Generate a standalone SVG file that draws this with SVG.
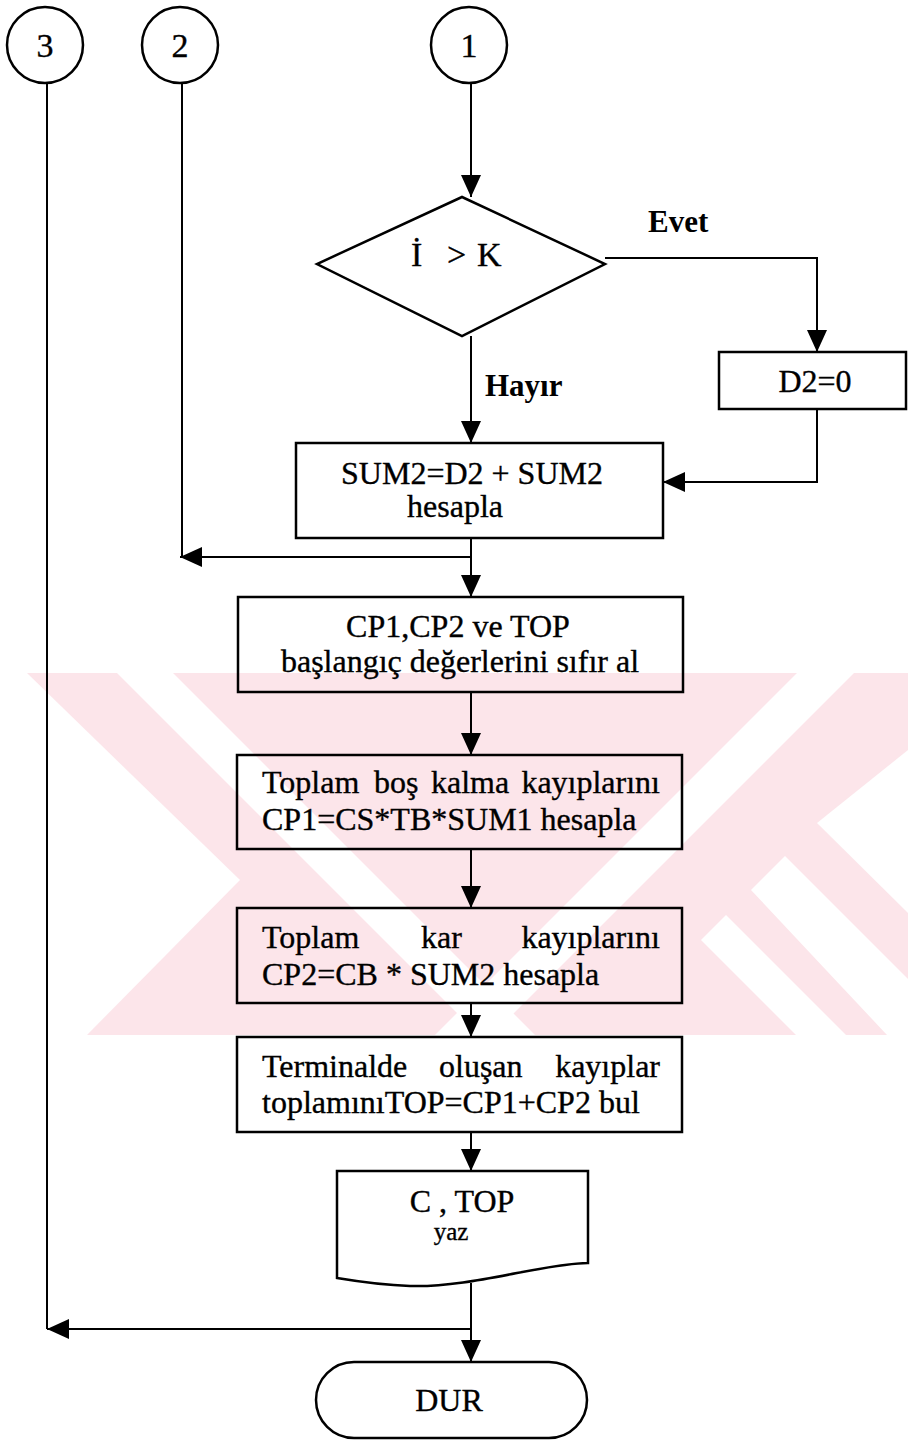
<svg xmlns="http://www.w3.org/2000/svg" width="908" height="1440" viewBox="0 0 908 1440">
  <defs>
    <marker id="arrow" viewBox="0 0 22 20" refX="22" refY="10" markerWidth="22" markerHeight="20" markerUnits="userSpaceOnUse" orient="auto">
      <path d="M0,0 L22,10 L0,20 Z" fill="#000"/>
    </marker>
    <style>
      .shape { fill: none; stroke: #000; stroke-width: 2.5; }
      .link { fill: none; stroke: #000; stroke-width: 2; }
      .txt { font-family: "Liberation Serif", "Times New Roman", serif; font-size: 32px; fill: #000; stroke: #000; stroke-width: 0.35; }
      .lbl { font-family: "Liberation Serif", "Times New Roman", serif; font-size: 31px; font-weight: bold; fill: #000; }
      .wm { fill: #fce5ea; }
      .wmcut { fill: #fff; }
    </style>
  </defs>

  <rect x="0" y="0" width="908" height="1440" fill="#fff"/>

  <!-- background stamp band -->
  <g id="stamp">
    <rect class="wm" x="0" y="673" width="908" height="362"/>
    <polygon class="wmcut" points="0,673 27,673 240,880 87,1035 0,1035"/>
    <polygon class="wmcut" points="117,673 173,673 535,1035 479,1035"/>
    <polygon class="wmcut" points="797,673 854,673 492,1035 435,1035"/>
    <polygon class="wmcut" points="908,750 817,823 908,913"/>
    <polygon class="wmcut" points="751,890 785,856 908,979 908,1035 887,1035"/>
    <polygon class="wmcut" points="701,940 726,915 846,1035 796,1035"/>
  </g>

  <!-- connectors -->
  <g id="connectors">
    <path class="link" d="M47,83 V1329"/>
    <path class="link" d="M182,83 V557"/>
    <path class="link" d="M471,83 V197" marker-end="url(#arrow)"/>
    <path class="link" d="M605,258 H817 V352" marker-end="url(#arrow)"/>
    <path class="link" d="M471,336 V443" marker-end="url(#arrow)"/>
    <path class="link" d="M817,409 V482 H663" marker-end="url(#arrow)"/>
    <path class="link" d="M471,538 V597" marker-end="url(#arrow)"/>
    <path class="link" d="M471,557 H180" marker-end="url(#arrow)"/>
    <path class="link" d="M471,692 V755" marker-end="url(#arrow)"/>
    <path class="link" d="M471,849 V908" marker-end="url(#arrow)"/>
    <path class="link" d="M471,1003 V1037" marker-end="url(#arrow)"/>
    <path class="link" d="M471,1132 V1171" marker-end="url(#arrow)"/>
    <path class="link" d="M471,1283 V1362" marker-end="url(#arrow)"/>
    <path class="link" d="M471,1329 H47" marker-end="url(#arrow)"/>
    <text class="lbl" x="648" y="232">Evet</text>
    <text class="lbl" x="485" y="396">Hayır</text>
  </g>

  <!-- off-page connectors -->
  <g id="c3">
    <circle class="shape" cx="45" cy="45" r="38"/>
    <text class="txt" x="45" y="57" text-anchor="middle" style="font-size:34px">3</text>
  </g>
  <g id="c2">
    <circle class="shape" cx="180" cy="45" r="38"/>
    <text class="txt" x="180" y="57" text-anchor="middle" style="font-size:34px">2</text>
  </g>
  <g id="c1">
    <circle class="shape" cx="469" cy="45" r="38"/>
    <text class="txt" x="469" y="57" text-anchor="middle" style="font-size:34px">1</text>
  </g>

  <!-- decision -->
  <g id="decision">
    <polygon class="shape" points="462,197 605,264 462,336 317,264"/>
    <text class="txt" y="266" style="font-size:34px"><tspan x="411">İ</tspan><tspan x="447">&gt;</tspan><tspan x="477">K</tspan></text>
  </g>

  <g id="d2zero">
    <rect class="shape" x="719" y="352" width="187" height="57"/>
    <text class="txt" x="815" y="392" text-anchor="middle">D2=0</text>
  </g>

  <g id="sum2">
    <rect class="shape" x="296" y="443" width="367" height="95"/>
    <text class="txt" x="472" y="484" text-anchor="middle">SUM2=D2 + SUM2</text>
    <text class="txt" x="455" y="517" text-anchor="middle">hesapla</text>
  </g>

  <g id="init">
    <rect class="shape" x="238" y="597" width="445" height="95"/>
    <text class="txt" x="458" y="637" text-anchor="middle">CP1,CP2 ve TOP</text>
    <text class="txt" x="460" y="672" text-anchor="middle">başlangıç değerlerini sıfır al</text>
  </g>

  <g id="cp1">
    <rect class="shape" x="237" y="755" width="445" height="94"/>
    <text class="txt" y="793"><tspan x="262">Toplam</tspan><tspan x="374">boş</tspan><tspan x="431">kalma</tspan></text>
    <text class="txt" x="660" y="793" text-anchor="end">kayıplarını</text>
    <text class="txt" x="262" y="830">CP1=CS*TB*SUM1 hesapla</text>
  </g>

  <g id="cp2">
    <rect class="shape" x="237" y="908" width="445" height="95"/>
    <text class="txt" y="948"><tspan x="262">Toplam</tspan><tspan x="421">kar</tspan></text>
    <text class="txt" x="660" y="948" text-anchor="end">kayıplarını</text>
    <text class="txt" x="262" y="985">CP2=CB * SUM2 hesapla</text>
  </g>

  <g id="total">
    <rect class="shape" x="237" y="1037" width="445" height="95"/>
    <text class="txt" y="1077"><tspan x="262">Terminalde</tspan><tspan x="439">oluşan</tspan></text>
    <text class="txt" x="660" y="1077" text-anchor="end">kayıplar</text>
    <text class="txt" x="262" y="1113">toplamınıTOP=CP1+CP2 bul</text>
  </g>

  <g id="output">
    <path class="shape" d="M337,1171 H588 V1263 C545,1263 470,1288 410,1286 C380,1285 355,1281 337,1278 Z"/>
    <text class="txt" x="462" y="1212" text-anchor="middle">C , TOP</text>
    <text class="txt" x="451" y="1240" text-anchor="middle" style="font-size:25px">yaz</text>
  </g>

  <g id="stop">
    <rect class="shape" x="316" y="1362" width="271" height="76" rx="38" ry="38"/>
    <text class="txt" x="449" y="1411" text-anchor="middle">DUR</text>
  </g>
</svg>
